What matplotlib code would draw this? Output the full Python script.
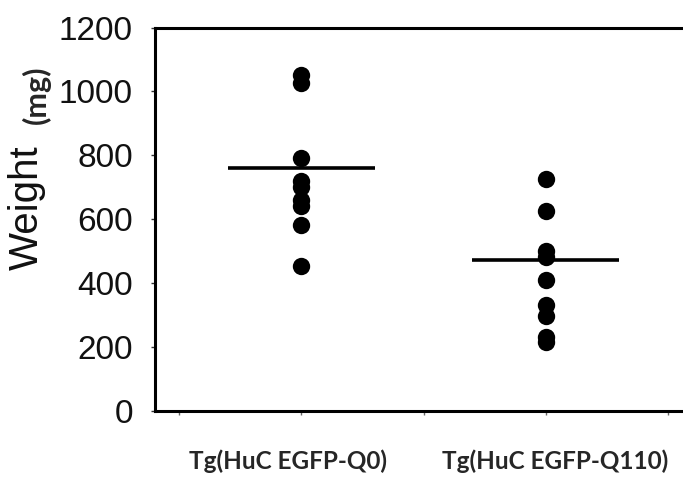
import matplotlib
matplotlib.use("Agg")
import matplotlib.pyplot as plt
from matplotlib.transforms import ScaledTranslation

# ---- data ----
categories = ["Tg(HuC EGFP-Q0)", "Tg(HuC EGFP-Q110)"]
q0_values = [1050, 1025, 790, 720, 700, 660, 640, 580, 452]
q110_values = [725, 625, 500, 480, 410, 330, 295, 230, 215]
group_means = [760, 471]
y_ticks = [0, 200, 400, 600, 800, 1000, 1200]
x_positions = [1, 2]

fig = plt.figure(figsize=(6.83, 4.78), dpi=100)
ax = fig.add_axes([0.227, 0.1412, 0.822, 0.801])

for xp, vals in zip(x_positions, [q0_values, q110_values]):
    ax.plot([xp] * len(vals), vals, 'o', color='black', markersize=12.5,
            markeredgewidth=0, clip_on=False)

for xp, m in zip(x_positions, group_means):
    ax.plot([xp - 0.30, xp + 0.30], [m, m], color='black', lw=2.6,
            solid_capstyle='butt')

ax.set_xlim(0.40, 2.70)
ax.set_ylim(0, 1200)

for side in ['left', 'bottom', 'top', 'right']:
    ax.spines[side].set_linewidth(2.2)
    ax.spines[side].set_color('black')

ax.set_yticks(y_ticks)
ax.set_yticklabels([str(v) for v in y_ticks], fontsize=24,
                   family='Liberation Sans', color='#111111')
ax.tick_params(axis='y', direction='out', length=3, width=1.0,
               color='#333333', pad=13)

ax.set_xticks([0.5, 1, 1.5, 2, 2.5])
ax.set_xticklabels([])
ax.tick_params(axis='x', direction='out', length=3, width=1.0,
               color='#666666')

# category labels
offsets_pt = [-10, 7]
for xp, lab, off in zip(x_positions, categories, offsets_pt):
    tr = ax.get_xaxis_transform() + ScaledTranslation(off / 72, 0, fig.dpi_scale_trans)
    ax.text(xp, -0.132, lab, transform=tr, ha='center', va='center',
            fontsize=17.5, family='Lato', fontweight='bold', color='#262626')

# y label in two parts
ax.text(-0.228, 0.529, "Weight", transform=ax.transAxes, rotation=90,
        ha='center', va='center', fontsize=29, family='Liberation Sans',
        color='#111111')
ax.text(-0.212, 0.825, "(mg)", transform=ax.transAxes, rotation=90,
        ha='center', va='center', fontsize=22, family='Lato',
        fontweight='bold', color='#262626')

fig.savefig("out.png", dpi=100)
